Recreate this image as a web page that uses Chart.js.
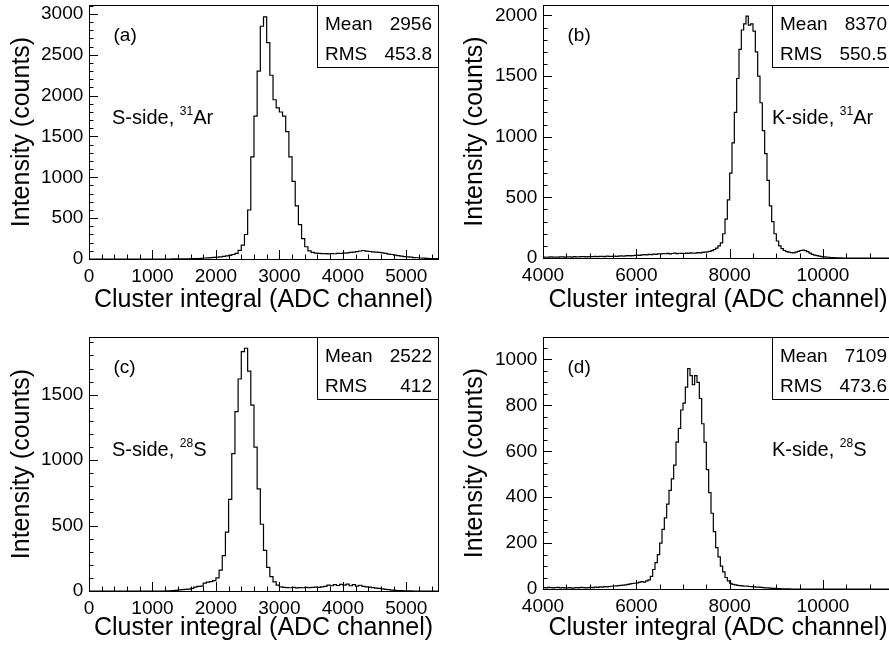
<!DOCTYPE html>
<html>
<head>
<meta charset="utf-8">
<title>Cluster integral spectra</title>
<style>
  html, body { margin: 0; padding: 0; background: #fff; width: 889px; height: 650px; overflow: hidden; }
  .pad { position: absolute; }
  .pad canvas { display: block; }
</style>
<script src="https://cdn.jsdelivr.net/npm/chart.js@4.4.0/dist/chart.umd.min.js"></script>
</head>
<body>
<div class="pad" style="left:0;top:0"><canvas id="padA" width="445" height="325"></canvas></div>
<div class="pad" style="left:444px;top:0"><canvas id="padB" width="455" height="325"></canvas></div>
<div class="pad" style="left:0;top:325px"><canvas id="padC" width="445" height="325"></canvas></div>
<div class="pad" style="left:444px;top:325px"><canvas id="padD" width="455" height="325"></canvas></div>
<script>
/* Cluster-integral histograms, S-side and K-side, for 31Ar and 28S runs */

const BIN_WIDTH = 50;

// counts per 50-channel bin, S-side 31Ar, from channel 0
const countsSAr = [
  0, 0, 0, 0, 0, 0, 0, 0, 0, 0,
  0, 0, 0, 0, 0, 0, 0, 0, 0, 0,
  0, 0, 0, 0, 0, 0, 1, 1, 1, 2,
  2, 3, 4, 5, 6, 8, 12, 14, 18, 20,
  24, 27, 32, 38, 45, 55, 68, 105, 170, 300,
  600, 1250, 1750, 2300, 2850, 2965, 2650, 2250, 1950, 1850,
  1800, 1750, 1560, 1250, 950, 650, 420, 250, 150, 100,
  80, 72, 68, 66, 65, 63, 66, 64, 68, 70,
  72, 75, 80, 84, 90, 98, 104, 96, 92, 88,
  85, 80, 74, 68, 60, 55, 48, 42, 36, 30,
  25, 22, 18, 15, 12, 10, 8, 6, 5, 4
];

// K-side 31Ar, from channel 4000
const countsKAr = [
  8, 6, 7, 9, 8, 7, 8, 10, 9, 8,
  9, 10, 8, 11, 10, 9, 11, 12, 10, 11,
  12, 11, 13, 12, 14, 13, 12, 15, 14, 13,
  15, 14, 16, 18, 15, 17, 19, 18, 20, 22,
  24, 22, 26, 28, 25, 30, 28, 32, 30, 34,
  33, 36, 35, 38, 34, 37, 40, 36, 39, 38,
  37, 40, 38, 42, 39, 41, 44, 42, 46, 48,
  50, 55, 60, 70, 82, 100, 125, 200, 320, 480,
  700, 950, 1200, 1480, 1720, 1880, 1930, 1995, 1920, 1930,
  1870, 1700, 1500, 1280, 1050, 860, 640, 430, 300, 200,
  140, 100, 78, 62, 52, 48, 45, 42, 48, 55,
  62, 65, 60, 52, 40, 30, 24, 20, 16, 12,
  10, 8, 6, 4, 3, 2, 1, 1, 0, 0,
  0, 0, 0, 0, 0, 0, 0, 0, 0, 0,
  0, 0, 0, 0, 0, 0, 0, 0, 0, 0
];

// S-side 28S, from channel 0
const countsSS = [
  0, 0, 0, 0, 0, 0, 0, 0, 0, 0,
  0, 0, 0, 0, 0, 0, 0, 0, 0, 0,
  0, 0, 0, 0, 1, 2, 3, 5, 8, 10,
  12, 15, 20, 30, 35, 38, 60, 68, 72, 80,
  100, 160, 270, 450, 700, 1050, 1370, 1620, 1830, 1855,
  1680, 1420, 1100, 780, 510, 310, 180, 110, 70, 45,
  32, 28, 26, 25, 27, 24, 26, 25, 27, 26,
  28, 30, 27, 32, 35, 45, 40, 48, 42, 50,
  45, 52, 40, 48, 38, 44, 35, 32, 30, 26,
  22, 20, 16, 12, 10, 7, 5, 4, 3, 2,
  1, 1, 0, 0, 0, 0, 0, 0, 0, 0
];

// K-side 28S, from channel 4000
const countsKS = [
  6, 5, 7, 6, 5, 6, 7, 5, 6, 5,
  5, 6, 4, 5, 6, 5, 7, 6, 5, 6,
  7, 6, 8, 7, 9, 8, 10, 9, 11, 12,
  13, 14, 15, 16, 17, 18, 20, 22, 24, 25,
  27, 30, 32, 30, 35, 40, 55, 85, 115, 150,
  200, 260, 310, 370, 430, 480, 540, 640, 700, 780,
  810, 880, 960, 930, 890, 930, 900, 830, 720, 640,
  520, 420, 330, 250, 180, 140, 100, 75, 50, 35,
  25, 20, 18, 16, 15, 14, 12, 13, 11, 10,
  9, 8, 8, 7, 6, 5, 5, 4, 3, 3,
  2, 2, 1, 1, 1, 1, 0, 0, 0, 0,
  0, 0, 0, 0, 0, 0, 0, 0, 0, 0,
  0, 0, 0, 0, 0, 0, 0, 0, 0, 0,
  0, 0, 0, 0, 0, 0, 0, 0, 0, 0,
  0, 0, 0, 0, 0, 0, 0, 0, 0, 0
];

const histCounts = [countsSAr, countsKAr, countsSS, countsKS];
const binStart = [0, 4000, 0, 4000];
const xRange = [[0, 5500], [4000, 11500], [0, 5500], [4000, 11500]];
const yTop = [3110, 2086, 1941, 1098];
const xTickStep = [1000, 2000, 1000, 2000];
const xMinorStep = [200, 500, 200, 500];
const yTickStep = [500, 500, 500, 200];
const yMinorStep = [100, 100, 100, 50];

const panelTags = ['(a)', '(b)', '(c)', '(d)'];
const sideNames = ['S-side, ', 'K-side, ', 'S-side, ', 'K-side, '];
const massNumbers = ['31', '31', '28', '28'];
const elements = ['Ar', 'Ar', 'S', 'S'];
const meanValues = ['2956', '8370', '2522', '7109'];
const rmsValues = ['453.8', '550.5', '412', '473.6'];

const X_TITLE = 'Cluster integral (ADC channel)';
const Y_TITLE = 'Intensity (counts)';

// canvas ids and frame geometry of each pad
const pads = [
  { id: 'padA', padTop: 5,  padRight: 7, yAxisW: 89, xAxisH: 66, xTitlePad: 10, yTitlePad: 7,  sideFromRight: false },
  { id: 'padB', padTop: 5,  padRight: 6, yAxisW: 99, xAxisH: 67, xTitlePad: 10, yTitlePad: 16, sideFromRight: true },
  { id: 'padC', padTop: 12, padRight: 7, yAxisW: 89, xAxisH: 59, xTitlePad: 7,  yTitlePad: 7,  sideFromRight: false },
  { id: 'padD', padTop: 12, padRight: 6, yAxisW: 99, xAxisH: 61, xTitlePad: 7,  yTitlePad: 16, sideFromRight: true }
];

const MAJOR_TICK = 9;
const MINOR_TICK = 4.5;

const FONT = '"Liberation Sans", Arial, Helvetica, sans-serif';
Chart.defaults.font.family = FONT;
Chart.defaults.color = '#000';

function histPoints(counts, start) {
  const pts = counts.map((c, i) => ({ x: start + i * BIN_WIDTH, y: c }));
  pts.push({ x: start + counts.length * BIN_WIDTH, y: counts[counts.length - 1] });
  return pts;
}

// tick values on a fixed step, without the range end
function stepTicks(min, max, step) {
  const out = [];
  for (let v = Math.ceil(min / step) * step; v <= max + 1e-9; v += step) out.push({ value: v });
  return out;
}

const plainNumber = v => String(v);

// fixed box sizes, no extra room for overhanging labels
function fixBox(size, horizontal) {
  return s => {
    if (horizontal) s.height = size; else s.width = size;
    s.paddingLeft = s.paddingRight = s.paddingTop = s.paddingBottom = 0;
  };
}

// tick marks pointing into the frame, taken from the scales' ticks
const insideTicks = {
  id: 'insideTicks',
  afterDatasetsDraw(chart) {
    const { ctx, chartArea: a, scales } = chart;
    ctx.save();
    ctx.strokeStyle = '#000';
    ctx.lineWidth = 1;
    ctx.beginPath();
    [['x', MAJOR_TICK], ['xMinor', MINOR_TICK]].forEach(([id, len]) => {
      const s = scales[id];
      s.ticks.forEach(t => {
        const px = Math.round(s.getPixelForValue(t.value)) + 0.5;
        ctx.moveTo(px, a.bottom);
        ctx.lineTo(px, a.bottom - len);
      });
    });
    [['y', MAJOR_TICK], ['yMinor', MINOR_TICK]].forEach(([id, len]) => {
      const s = scales[id];
      s.ticks.forEach(t => {
        const py = Math.round(s.getPixelForValue(t.value)) + 0.5;
        ctx.moveTo(a.left, py);
        ctx.lineTo(a.left + len, py);
      });
    });
    ctx.stroke();
    ctx.restore();
  }
};

// stats box, panel tag and isotope label
const padText = {
  id: 'padText',
  afterDraw(chart, args, o) {
    const { ctx, chartArea: a } = chart;
    ctx.save();
    const bw = 121, bh = 62;
    const bx = Math.round(a.right - bw);
    const by = Math.round(a.top);
    ctx.fillStyle = '#fff';
    ctx.fillRect(bx, by, bw, bh);
    ctx.strokeStyle = '#000';
    ctx.lineWidth = 1;
    ctx.strokeRect(bx + 0.5, by + 0.5, bw, bh);

    ctx.fillStyle = '#000';
    ctx.textBaseline = 'alphabetic';
    ctx.font = `19px ${FONT}`;
    ctx.textAlign = 'left';
    ctx.fillText('Mean', bx + 8, by + 24.5);
    ctx.fillText('RMS', bx + 8, by + 55);
    ctx.textAlign = 'right';
    ctx.fillText(o.mean, a.right - 6, by + 24.5);
    ctx.fillText(o.rms, a.right - 6, by + 55);

    ctx.textAlign = 'left';
    ctx.fillText(o.tag, a.left + 24.5, a.top + 36);

    let x = o.sideFromRight ? a.right - 121 : a.left + 23;
    const y = a.top + 119;
    ctx.font = `20px ${FONT}`;
    ctx.fillText(o.side, x, y);
    x += ctx.measureText(o.side).width;
    ctx.font = `12px ${FONT}`;
    ctx.fillText(o.mass, x, y - 9);
    x += ctx.measureText(o.mass).width;
    ctx.font = `20px ${FONT}`;
    ctx.fillText(o.element, x, y);
    ctx.restore();
  }
};

function makePad(i) {
  const p = pads[i];
  const [xMin, xMax] = xRange[i];
  const yMax = yTop[i];
  const tickFont = { family: FONT, size: 19 };
  const titleFont = { family: FONT, size: 25 };
  const frame = { display: true, color: '#000', width: 1 };
  const noGrid = { display: false, drawOnChartArea: false, drawTicks: false };

  new Chart(document.getElementById(p.id), {
    type: 'line',
    data: {
      datasets: [{
        data: histPoints(histCounts[i], binStart[i]),
        borderColor: '#000',
        borderWidth: 1.2,
        stepped: 'before',
        pointRadius: 0,
        fill: false,
        tension: 0
      }]
    },
    options: {
      responsive: false,
      animation: false,
      events: [],
      layout: { padding: { left: 0, top: p.padTop, right: p.padRight, bottom: 0 } },
      plugins: {
        legend: { display: false },
        tooltip: { enabled: false },
        padText: {
          tag: panelTags[i], side: sideNames[i], mass: massNumbers[i], element: elements[i],
          mean: meanValues[i], rms: rmsValues[i], sideFromRight: p.sideFromRight
        }
      },
      scales: {
        x: {
          type: 'linear', position: 'bottom', weight: 1, min: xMin, max: xMax, bounds: 'data',
          ticks: { autoSkip: false, maxRotation: 0, font: tickFont, color: '#000', padding: 6, callback: plainNumber },
          afterBuildTicks: s => { s.ticks = stepTicks(xMin, xMax, xTickStep[i]); },
          grid: noGrid,
          border: frame,
          title: { display: true, text: X_TITLE, font: titleFont, color: '#000',
                   padding: { top: 0, bottom: p.xTitlePad } },
          afterFit: fixBox(p.xAxisH, true)
        },
        xMinor: {
          type: 'linear', position: 'bottom', weight: 0, min: xMin, max: xMax, bounds: 'data',
          ticks: { display: false, autoSkip: false },
          afterBuildTicks: s => { s.ticks = stepTicks(xMin, xMax, xMinorStep[i]); },
          grid: noGrid,
          border: { display: false },
          afterFit: fixBox(0, true)
        },
        xFrame: {
          type: 'linear', position: 'top', min: xMin, max: xMax,
          ticks: { display: false }, grid: noGrid,
          border: frame,
          afterFit: fixBox(0, true)
        },
        y: {
          type: 'linear', position: 'left', weight: 1, min: 0, max: yMax, bounds: 'data',
          ticks: { autoSkip: false, font: tickFont, color: '#000', padding: 5.7, callback: plainNumber },
          afterBuildTicks: s => { s.ticks = stepTicks(0, yMax, yTickStep[i]); },
          grid: noGrid,
          border: frame,
          title: { display: true, text: Y_TITLE, font: titleFont, color: '#000',
                   padding: { top: p.yTitlePad, bottom: 0 } },
          afterFit: fixBox(p.yAxisW, false)
        },
        yMinor: {
          type: 'linear', position: 'left', weight: 0, min: 0, max: yMax, bounds: 'data',
          ticks: { display: false, autoSkip: false },
          afterBuildTicks: s => { s.ticks = stepTicks(0, yMax, yMinorStep[i]); },
          grid: noGrid,
          border: { display: false },
          afterFit: fixBox(0, false)
        },
        yFrame: {
          type: 'linear', position: 'right', min: 0, max: yMax,
          ticks: { display: false }, grid: noGrid,
          border: frame,
          afterFit: fixBox(0, false)
        }
      }
    },
    plugins: [insideTicks, padText]
  });
}

pads.forEach((p, i) => makePad(i));
</script>
</body>
</html>
